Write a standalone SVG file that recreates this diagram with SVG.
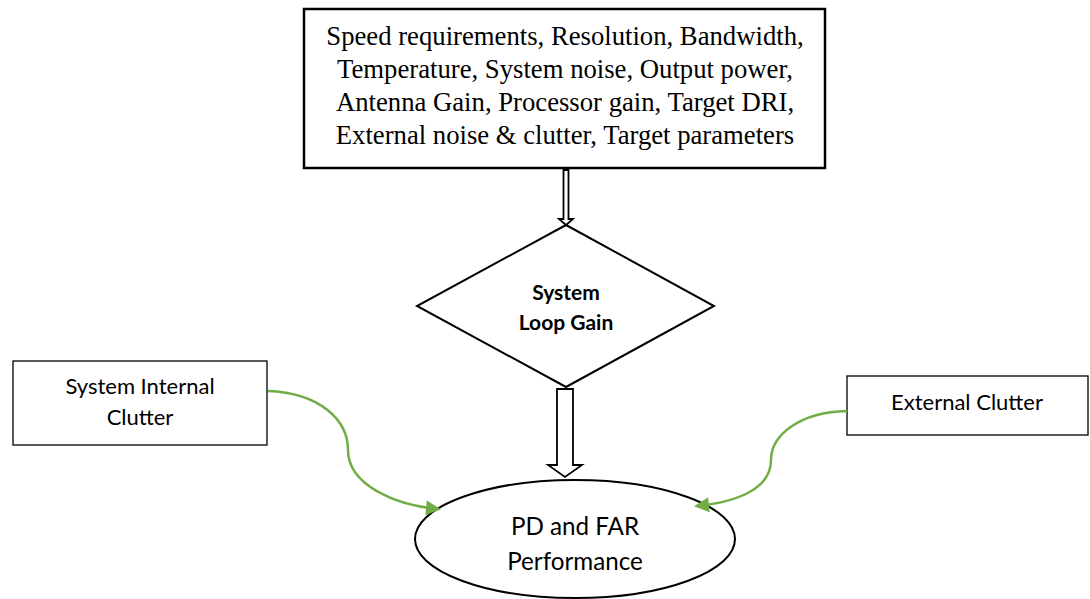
<svg xmlns="http://www.w3.org/2000/svg" width="1090" height="599" viewBox="0 0 1090 599">
<style>
.box{fill:#fff;stroke:#000;stroke-width:1.3}
.thick{fill:#fff;stroke:#000;stroke-width:2.5}
.shape{fill:#fff;stroke:#000;stroke-width:2}
.tnr{font-family:"Liberation Serif",serif;font-size:26.7px;fill:#000;text-anchor:middle}
.cal{font-family:Lato,"Open Sans",sans-serif;font-size:22px;fill:#000;text-anchor:middle}
.big{font-size:24.2px}
.bold{font-family:Lato,"Open Sans",sans-serif;font-size:21px;font-weight:bold;fill:#000;text-anchor:middle}
.green{fill:none;stroke:#70AD47;stroke-width:2.5}
.hollow{fill:#fff;stroke:#000;stroke-width:1.8;stroke-linejoin:miter}
</style>
<defs>
<marker id="gh" viewBox="0 0 10 10" refX="8" refY="5" markerWidth="7" markerHeight="6" orient="auto" markerUnits="strokeWidth">
<path d="M0,0 L10,5 L0,10 z" fill="#70AD47"/>
</marker>
</defs>
<g id="params">
<rect class="thick" x="304" y="9" width="521" height="159"/>
<text class="tnr" x="565" y="45">Speed requirements, Resolution, Bandwidth,</text>
<text class="tnr" x="565" y="78">Temperature, System noise, Output power,</text>
<text class="tnr" x="565" y="111">Antenna Gain, Processor gain, Target DRI,</text>
<text class="tnr" x="565" y="144">External noise &amp; clutter, Target parameters</text>
</g>
<g id="loopgain">
<polygon class="shape" points="566,225 714,306 566,387 417,306"/>
<text class="bold" x="566" y="300">System</text>
<text class="bold" x="566" y="330">Loop Gain</text>
</g>
<g id="internal">
<rect class="box" x="13" y="361" width="254" height="84"/>
<text class="cal" x="140" y="394">System Internal</text>
<text class="cal" x="140" y="425">Clutter</text>
</g>
<g id="external">
<rect class="box" x="847" y="376" width="241" height="59"/>
<text class="cal" x="967" y="410">External Clutter</text>
</g>
<g id="performance">
<ellipse class="shape" cx="575" cy="539" rx="160" ry="59"/>
<text class="cal big" x="575" y="535">PD and FAR</text>
<text class="cal big" x="575" y="570">Performance</text>
</g>
<g id="connectors">
<polygon class="hollow" points="563.5,170 568.5,170 568.5,219 573,219 566,225 559,219 563.5,219"/>
<polygon class="hollow" points="557,389 573,389 573,465 582,465 565,477 548,465 557,465"/>
<path class="green" d="M268,391 C320,393 348,420 348,450 C348,485 395,505 438,509" marker-end="url(#gh)"/>
<path class="green" d="M847,411 C800,412 771,435 771,460 C771,490 735,502 697,506" marker-end="url(#gh)"/>
</g>
</svg>
